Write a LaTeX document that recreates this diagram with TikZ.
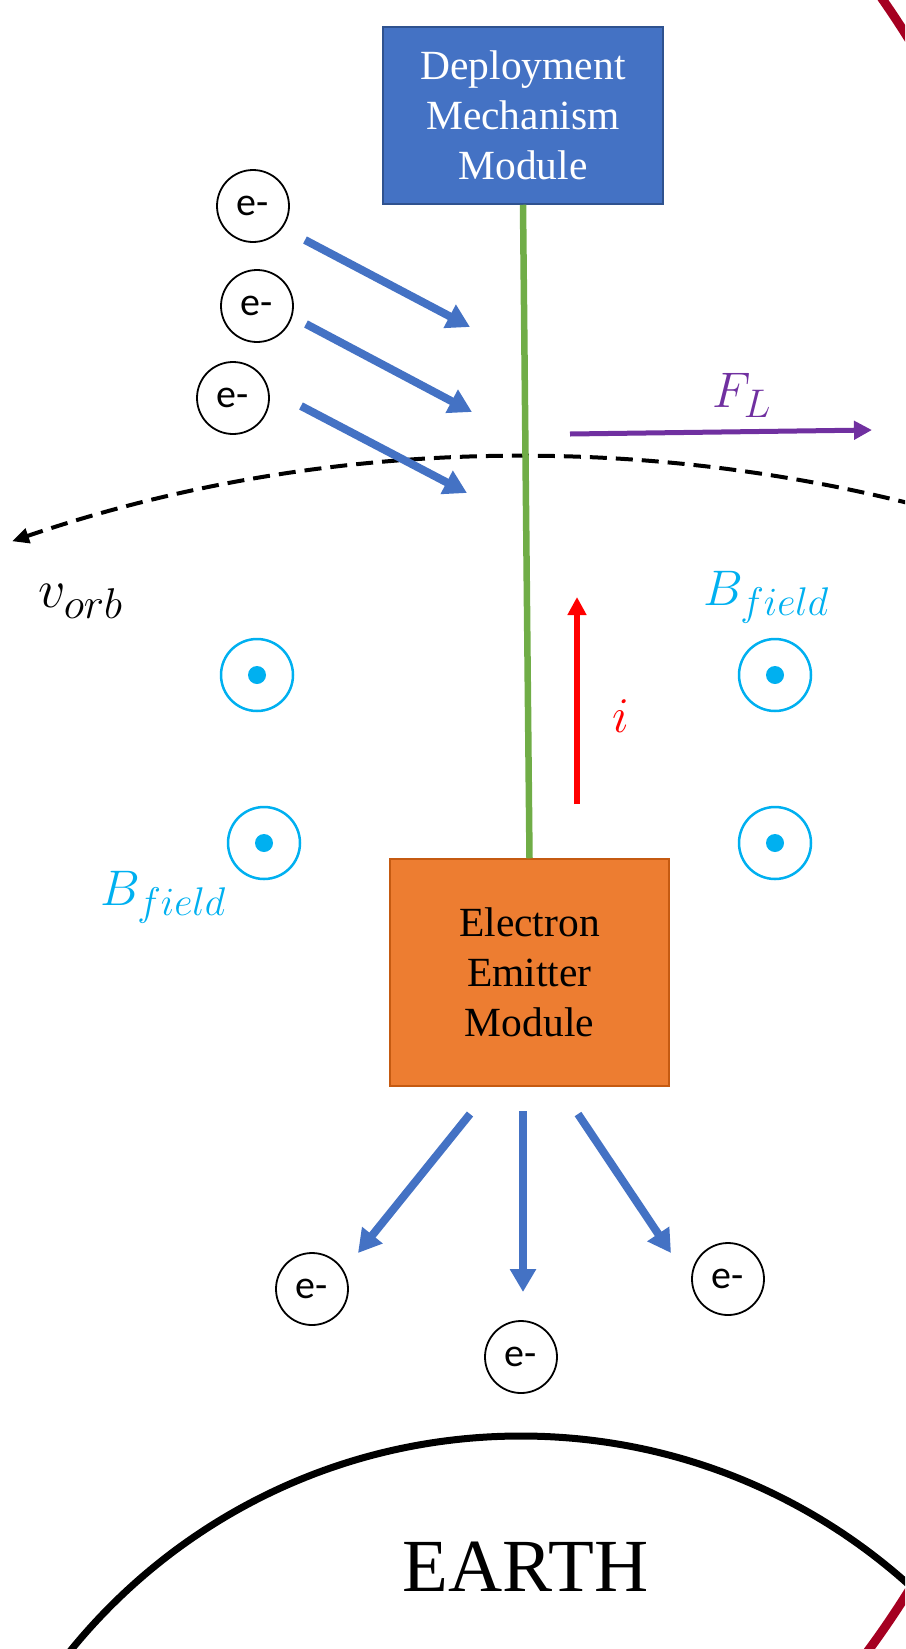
\documentclass[tikz,border=0pt]{standalone}
\usepackage{fix-cm}
\usepackage{fontspec}
\setmainfont{Liberation Serif}
\newfontfamily\carlito{Carlito}
\usetikzlibrary{arrows.meta}
\DeclareMathSizes{50}{50}{40}{30}
\DeclareMathSizes{54}{54}{43}{32}
\definecolor{boxblue}{HTML}{4472C4}
\definecolor{boxblueedge}{HTML}{2F528F}
\definecolor{boxorange}{HTML}{ED7D31}
\definecolor{boxorangeedge}{HTML}{C55A11}
\definecolor{tethergreen}{HTML}{70AD47}
\definecolor{flowblue}{HTML}{4472C4}
\definecolor{forcepurple}{HTML}{7030A0}
\definecolor{fieldcyan}{HTML}{00B0F0}
\definecolor{framered}{HTML}{A50021}
\begin{document}
\begin{tikzpicture}[x=1pt,y=-1pt,
  module/.style={draw, line width=1.5pt, inner sep=0pt, align=center,
    font=\fontsize{41.5}{50}\selectfont},
  elec/.style={circle, draw=black, line width=1.8pt, minimum size=72pt, inner sep=0pt,
    font=\carlito\fontsize{40}{48}\selectfont},
  bsym/.style={circle, draw=fieldcyan, line width=2.5pt, minimum size=72pt, inner sep=0pt},
  flow/.style={draw=flowblue, line width=8pt, -{Triangle[length=23pt,width=25pt]}},
  mlabel/.style={anchor=base west, inner sep=0pt, font=\fontsize{50}{60}\selectfont}
]
\useasboundingbox (0,0) rectangle (905,1649);
\clip (0,0) rectangle (905,1649);

% frame ellipse (dark red), only its right side reaches the page
\coordinate (framec) at (452,815);
\draw[framered, line width=9pt] (framec) ++(-90:1081) arc [start angle=-90, end angle=90, x radius=656, y radius=1081];

% Earth
\coordinate (earthc) at (521,2016);
\draw[black, line width=7pt] (earthc) circle [radius=580];
\node[anchor=base, inner sep=0pt, font=\fontsize{75}{90}\selectfont] (earth) at (525.5,1591) {EARTH};

% orbit (dashed)
\coordinate (orbc) at (525,2043);
\draw[black, line width=4pt, dash pattern=on 17pt off 9pt, -{Triangle[length=17pt,width=15pt]}]
  (orbc) ++(-75.78:1587) arc [start angle=-75.78, end angle=-108.86, radius=1587];
\node[mlabel, font=\fontsize{54}{64}\selectfont] (vorb) at (38,607) {$v_{orb}$};

% modules
\node[module, fill=boxblue, draw=boxblueedge, text=white, minimum width=280pt, minimum height=177pt]
  (dep) at (523,115.5) {Deployment\\Mechanism\\Module};
\node[module, fill=boxorange, draw=boxorangeedge, text=black, minimum width=279pt, minimum height=227pt]
  (emit) at (529.5,972.5) {Electron\\Emitter\\Module};
\draw[tethergreen, line width=6.5pt] (dep.south) -- (emit.north);

% incoming electrons
\node[elec] (e1) at (253,206) {e-};
\node[elec] (e2) at (257,306) {e-};
\node[elec] (e3) at (233,398) {e-};
\coordinate (a1s) at (305,240); \coordinate (a1e) at (470,327);
\coordinate (a2s) at (306,324); \coordinate (a2e) at (472,412);
\coordinate (a3s) at (301,406); \coordinate (a3e) at (467,493);
\draw[flow] (a1s) -- (a1e);
\draw[flow] (a2s) -- (a2e);
\draw[flow] (a3s) -- (a3e);

% emitted electrons
\node[elec] (e4) at (312,1289) {e-};
\node[elec] (e5) at (521,1357) {e-};
\node[elec] (e6) at (728,1279) {e-};
\coordinate (b1s) at (470,1114); \coordinate (b1e) at (358,1253);
\coordinate (b2s) at (523,1111); \coordinate (b2e) at (523,1292);
\coordinate (b3s) at (578,1114); \coordinate (b3e) at (671,1253);
\draw[flow] (b1s) -- (b1e);
\draw[flow] (b2s) -- (b2e);
\draw[flow] (b3s) -- (b3e);

% Lorentz force
\coordinate (fls) at (570,434); \coordinate (fle) at (872,430);
\draw[forcepurple, line width=5pt, -{Triangle[length=18pt,width=18pt]}] (fls) -- (fle);
\node[mlabel, text=forcepurple] (fl) at (712,407) {$F_L$};

% current
\coordinate (is) at (577,804); \coordinate (ie) at (577,597);
\draw[red, line width=6pt, -{Triangle[length=18pt,width=18pt]}] (is) -- (ie);
\node[mlabel, text=red] (ilab) at (612,732) {$i$};

% magnetic field symbols
\node[bsym] (bf1) at (257,675) {};
\node[bsym] (bf2) at (264,843) {};
\node[bsym] (bf3) at (775,675) {};
\node[bsym] (bf4) at (775,843) {};
\foreach \b in {bf1,bf2,bf3,bf4} \fill[fieldcyan] (\b.center) circle [radius=9];
\node[mlabel, text=fieldcyan] (bl1) at (703,605) {$B_{field}$};
\node[mlabel, text=fieldcyan] (bl2) at (100,905) {$B_{field}$};
\end{tikzpicture}
\end{document}
